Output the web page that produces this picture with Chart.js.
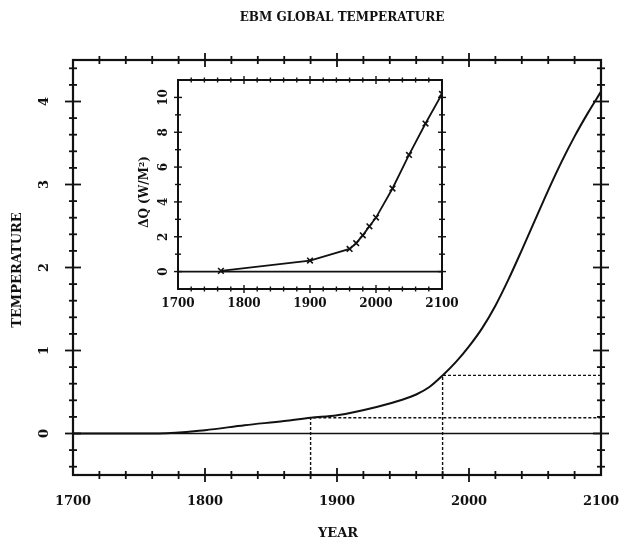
<!DOCTYPE html>
<html><head><meta charset="utf-8">
<script src="https://cdn.jsdelivr.net/npm/chart.js@4/dist/chart.umd.min.js"></script>
<style>
html,body{margin:0;padding:0;background:#fff;}
#wrap{position:relative;width:620px;height:543px;overflow:hidden;}
#main{position:absolute;left:0;top:0;}
#inset{position:absolute;left:130px;top:70px;}
</style></head><body>
<div id="wrap"><canvas id="main" width="620" height="543"></canvas><canvas id="inset" width="330" height="250"></canvas></div>
<script>
// ---- data ----
const tempYears  = [1700,1765,1800,1830,1860,1880,1900,1930,1950,1960,1970,1980,1990,2000,2010,2020,2030,2040,2050,2060,2070,2080,2090,2100];
const tempValues = [0,0,0.04,0.10,0.15,0.19,0.22,0.32,0.41,0.47,0.56,0.70,0.86,1.05,1.27,1.54,1.86,2.21,2.57,2.93,3.27,3.58,3.86,4.12];
const baseYears  = [1700,2100];
const baseValues = [0,0];
const markYears  = [1880,1980];
const markTemps  = [0.19,0.70];
const forcingYears  = [1765,1900,1960,1970,1980,1990,2000,2025,2050,2075,2100];
const forcingValues = [0.04,0.63,1.30,1.63,2.08,2.60,3.10,4.77,6.70,8.50,10.20];
const insetBaseValues = [0,0];
const mainXLabels = [1700,1800,1900,2000,2100];
const mainYLabels = [0,1,2,3,4];
const insetXLabels = [1700,1800,1900,2000,2100];
const insetYLabels = [0,2,4,6,8,10];

const FONT = '"DejaVu Serif", serif';
const INK = '#111';

function pts(xs, ys){ return xs.map((x,i)=>({x:x,y:ys[i]})); }

function framePlugin(c){
  return {id:'frame', afterDraw(chart){
    const ctx=chart.ctx, a=chart.chartArea, xs=chart.scales.x, ys=chart.scales.y;
    ctx.save();
    ctx.strokeStyle=INK; ctx.fillStyle=INK; ctx.lineCap='butt';
    ctx.lineWidth=c.frameW;
    ctx.strokeRect(a.left,a.top,a.right-a.left,a.bottom-a.top);
    ctx.lineWidth=c.tickW;
    const seg=(x1,y1,x2,y2)=>{ctx.beginPath();ctx.moveTo(x1,y1);ctx.lineTo(x2,y2);ctx.stroke();};
    const isMaj=(v,m)=>Math.abs(v/m-Math.round(v/m))<1e-6;
    for(let k=Math.ceil(xs.min/c.xMinor);k*c.xMinor<=xs.max+1e-9;k++){
      const v=k*c.xMinor; if(v<=xs.min+1e-9||v>=xs.max-1e-9) continue;
      const p=xs.getPixelForValue(v); const L=isMaj(v,c.xMajor)?c.majX:c.minX;
      seg(p,a.bottom-L,p,a.bottom+L); seg(p,a.top-L,p,a.top+L);
    }
    for(let k=Math.ceil(ys.min/c.yMinor-1e-9);k*c.yMinor<=ys.max+1e-9;k++){
      const v=k*c.yMinor; if(v<=ys.min+1e-9||v>=ys.max-1e-9) continue;
      const p=ys.getPixelForValue(v); const L=isMaj(v,c.yMajor)?c.majY:c.minY;
      seg(a.left-L,p,a.left+L,p); seg(a.right-L,p,a.right+L,p);
    }
    ctx.font='bold '+c.fs+'px '+FONT; ctx.textAlign='center'; ctx.textBaseline='middle';
    c.xLabels.forEach(v=>ctx.fillText(String(v), xs.getPixelForValue(v), a.bottom+c.xOff));
    c.yLabels.forEach(v=>{ctx.save();ctx.translate(a.left-c.yOff, ys.getPixelForValue(v));ctx.rotate(-Math.PI/2);ctx.fillText(String(v),0,0);ctx.restore();});
    if(c.extra) c.extra(ctx);
    ctx.restore();
  }};
}

function baseOpts(xmin,xmax,ymin,ymax,pad){
  return {responsive:false, animation:false, devicePixelRatio:1,
    layout:{padding:pad},
    plugins:{legend:{display:false},tooltip:{enabled:false},title:{display:false}},
    scales:{x:{type:'linear',min:xmin,max:xmax,display:false},
            y:{type:'linear',min:ymin,max:ymax,display:false}},
    elements:{point:{radius:0}}};
}

// ---- main chart ----
new Chart(document.getElementById('main'),{
  type:'line',
  data:{datasets:[
    {data:pts(tempYears,tempValues),borderColor:INK,borderWidth:2,cubicInterpolationMode:'monotone',fill:false},
    {data:pts(baseYears,baseValues),borderColor:INK,borderWidth:1.6,fill:false},
    {data:[{x:markYears[0],y:-0.5},{x:markYears[0],y:markTemps[0]},{x:2100,y:markTemps[0]}],borderColor:INK,borderWidth:1.4,borderDash:[3,2],fill:false},
    {data:[{x:markYears[1],y:-0.5},{x:markYears[1],y:markTemps[1]},{x:2100,y:markTemps[1]}],borderColor:INK,borderWidth:1.4,borderDash:[3,2],fill:false}
  ]},
  options:baseOpts(1700,2100,-0.5,4.5,{left:73,right:19,top:60,bottom:68}),
  plugins:[framePlugin({frameW:2.2,tickW:1.8,xMinor:20,xMajor:100,yMinor:0.2,yMajor:1,
    majX:7,minX:4,majY:8,minY:4,fs:13,xLabels:mainXLabels,yLabels:mainYLabels,xOff:27,yOff:28,
    extra:(ctx)=>{
      ctx.textAlign='center'; ctx.textBaseline='middle';
      ctx.font='bold 12px '+FONT;
      ctx.fillText('EBM GLOBAL TEMPERATURE',342,18);
      ctx.font='bold 13px '+FONT;
      ctx.fillText('YEAR',338,534);
      ctx.save();ctx.translate(18,270);ctx.rotate(-Math.PI/2);ctx.fillText('TEMPERATURE',0,0);ctx.restore();
    }})]
});

// ---- inset chart ----
new Chart(document.getElementById('inset'),{
  type:'line',
  data:{datasets:[
    {data:pts(forcingYears,forcingValues),borderColor:INK,borderWidth:1.8,tension:0,fill:false,
     pointStyle:'crossRot',pointRadius:4,pointBorderWidth:1.6,pointBorderColor:INK},
    {data:pts(baseYears,insetBaseValues),borderColor:INK,borderWidth:1.6,fill:false}
  ]},
  options:baseOpts(1700,2100,-1,11,{left:48,right:18,top:10,bottom:31}),
  plugins:[framePlugin({frameW:2,tickW:1.4,xMinor:20,xMajor:100,yMinor:1,yMajor:2,
    majX:4,minX:2.5,majY:4,minY:3,fs:12,xLabels:insetXLabels,yLabels:insetYLabels,xOff:15,yOff:14,
    extra:(ctx)=>{
      ctx.font='bold 12px '+FONT; ctx.textAlign='center'; ctx.textBaseline='middle';
      ctx.save();ctx.translate(15,122);ctx.rotate(-Math.PI/2);ctx.fillText('ΔQ (W/M²)',0,0);ctx.restore();
    }})]
});
</script>
</body></html>
